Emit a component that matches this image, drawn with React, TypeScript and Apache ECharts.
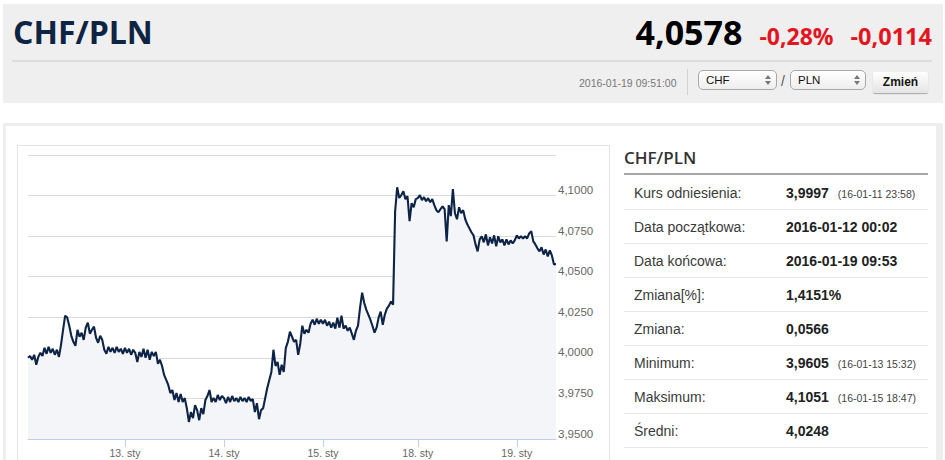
import React, { useEffect, useRef } from "react";
import * as echarts from "echarts";

// ---------- data ----------
const dayKeys = ["2016-01-12", "2016-01-13", "2016-01-14", "2016-01-15", "2016-01-18", "2016-01-19"];
const tickLabels = ["", "13. sty", "14. sty", "15. sty", "18. sty", "19. sty"];

const day12 = [4.0000, 4.0012, 3.9988, 4.0019, 3.9957, 4.0006, 4.0031, 4.0012, 4.0062, 4.0025, 4.0068, 4.0031, 4.0056, 4.0019, 4.0050, 4.0006, 4.0080, 4.0173, 4.0260, 4.0248, 4.0198, 4.0136, 4.0099, 4.0074, 4.0173, 4.0130, 4.0155, 4.0111, 4.0186, 4.0217, 4.0149, 4.0173, 4.0192, 4.0124, 4.0093, 4.0136, 4.0111, 4.0050, 4.0025, 4.0068, 4.0037, 4.0062, 4.0031, 4.0068, 4.0037, 4.0056, 4.0025];
const day13 = [4.0062, 4.0031, 4.0056, 4.0019, 4.0050, 4.0031, 3.9975, 4.0037, 4.0006, 4.0056, 4.0000, 4.0050, 3.9988, 4.0037, 4.0012, 4.0037, 3.9963, 3.9988, 3.9950, 3.9895, 3.9864, 3.9833, 3.9783, 3.9802, 3.9740, 3.9783, 3.9728, 3.9777, 3.9728, 3.9752, 3.9690, 3.9605, 3.9666, 3.9629, 3.9709, 3.9678, 3.9616, 3.9690, 3.9653, 3.9740, 3.9765, 3.9802, 3.9728, 3.9752, 3.9728, 3.9771, 3.9740, 3.9765];
const day14 = [3.9752, 3.9721, 3.9759, 3.9728, 3.9765, 3.9734, 3.9752, 3.9728, 3.9759, 3.9734, 3.9752, 3.9728, 3.9759, 3.9734, 3.9746, 3.9666, 3.9721, 3.9622, 3.9678, 3.9690, 3.9752, 3.9814, 3.9864, 3.9913, 4.0050, 3.9950, 3.9975, 3.9895, 3.9957, 3.9913, 4.0062, 4.0099, 4.0161, 4.0130, 4.0099, 4.0111, 4.0019, 4.0087, 4.0198, 4.0149, 4.0173, 4.0155, 4.0210, 4.0235, 4.0204, 4.0241, 4.0210, 4.0235];
const day15 = [4.0210, 4.0235, 4.0198, 4.0223, 4.0186, 4.0217, 4.0180, 4.0248, 4.0186, 4.0260, 4.0180, 4.0198, 4.0167, 4.0186, 4.0149, 4.0111, 4.0167, 4.0198, 4.0309, 4.0402, 4.0340, 4.0297, 4.0266, 4.0235, 4.0198, 4.0155, 4.0186, 4.0248, 4.0285, 4.0204, 4.0266, 4.0303, 4.0322, 4.0347, 4.0328, 4.0903, 4.1051, 4.0985, 4.1003, 4.1027, 4.0978, 4.0996, 4.0842, 4.0953, 4.0928, 4.0978];
const day18 = [4.0984, 4.1003, 4.0972, 4.0990, 4.0965, 4.0984, 4.0959, 4.0978, 4.0941, 4.0910, 4.0897, 4.0916, 4.0934, 4.0916, 4.0718, 4.0941, 4.0873, 4.1040, 4.0891, 4.0854, 4.0928, 4.0891, 4.0910, 4.0854, 4.0823, 4.0798, 4.0774, 4.0755, 4.0699, 4.0656, 4.0730, 4.0749, 4.0712, 4.0761, 4.0693, 4.0743, 4.0705, 4.0755, 4.0687, 4.0749, 4.0712, 4.0730, 4.0693, 4.0730, 4.0699, 4.0724, 4.0705, 4.0724];
const day19 = [4.0755, 4.0736, 4.0749, 4.0736, 4.0749, 4.0736, 4.0767, 4.0780, 4.0718, 4.0699, 4.0675, 4.0656, 4.0681, 4.0637, 4.0668, 4.0625, 4.0662, 4.0631, 4.0576, 4.0578];

const yMin = 3.95;
const yMax = 4.125;
const yStep = 0.025;

const infoLabels = ["Kurs odniesienia:", "Data początkowa:", "Data końcowa:", "Zmiana[%]:", "Zmiana:", "Minimum:", "Maksimum:", "Średni:"];
const infoValues = ["3,9997", "2016-01-12 00:02", "2016-01-19 09:53", "1,4151%", "0,0566", "3,9605", "4,1051", "4,0248"];
const infoNotes = ["(16-01-11 23:58)", "", "", "", "", "(16-01-13 15:32)", "(16-01-15 18:47)", ""];

// ---------- build ----------
const days = [day12, day13, day14, day15, day18, day19];
const categories: string[] = [];
const values: number[] = [];
const labelAt: Record<number, string> = {};
days.forEach((arr, d) => {
  arr.forEach((v, j) => {
    const idx = categories.length;
    categories.push(`${dayKeys[d]} #${j}`);
    if (j === 0 && tickLabels[d]) labelAt[idx] = tickLabels[d];
    values.push(v);
  });
});

const ARIAL = "'Liberation Sans', Arial, sans-serif";
const OPEN = "'Open Sans', 'Noto Sans', sans-serif";

function Arrows({ left, top }: { left: number; top: number }) {
  return (
    <div style={{ position: "absolute", left, top, width: 6, height: 10 }}>
      <div style={{ position: "absolute", left: 0, top: 0, width: 0, height: 0, borderLeft: "3px solid transparent", borderRight: "3px solid transparent", borderBottom: "4px solid #777" }} />
      <div style={{ position: "absolute", left: 0, top: 6, width: 0, height: 0, borderLeft: "3px solid transparent", borderRight: "3px solid transparent", borderTop: "4px solid #777" }} />
    </div>
  );
}

function Select({ left, width, text }: { left: number; width: number; text: string }) {
  return (
    <div style={{ position: "absolute", left, top: 70, width, height: 20, boxSizing: "border-box", border: "1px solid #a8a8a8", borderRadius: 5, background: "linear-gradient(#ffffff, #eeeeee)" }}>
      <div style={{ position: "absolute", left: 7, top: 0, height: 18, lineHeight: "18px", fontFamily: ARIAL, fontSize: 11.5, color: "#111" }}>{text}</div>
      <Arrows left={width - 13} top={4} />
    </div>
  );
}

export default function App() {
  const ref = useRef<HTMLDivElement>(null);

  useEffect(() => {
    if (!ref.current) return;
    const chart = echarts.init(ref.current, undefined, { renderer: "svg" });
    const showIdx = (i: number) => labelAt[i] !== undefined;
    chart.setOption({
      animation: false,
      grid: { left: 10, right: 53, top: 9, bottom: 21 },
      xAxis: {
        type: "category",
        data: categories,
        boundaryGap: false,
        axisLine: { lineStyle: { color: "#c0d0e0", width: 1 } },
        axisTick: { show: true, interval: showIdx, length: 8, lineStyle: { color: "#c0d0e0", width: 1 } },
        axisLabel: {
          interval: showIdx,
          formatter: (_v: string, i: number) => labelAt[i] ?? "",
          color: "#666666",
          fontFamily: ARIAL,
          fontSize: 10.5,
          margin: 8,
        },
        splitLine: { show: false },
      },
      yAxis: {
        type: "value",
        position: "right",
        min: yMin,
        max: yMax,
        interval: yStep,
        axisLine: { show: false },
        axisTick: { show: false },
        axisLabel: {
          showMaxLabel: false,
          formatter: (v: number) => v.toFixed(4).replace(".", ","),
          color: "#666666",
          fontFamily: ARIAL,
          fontSize: 11.5,
          lineHeight: 11,
          margin: 2,
          align: "left",
          verticalAlign: "bottom",
        },
        splitLine: { lineStyle: { color: "#dadada", width: 1 } },
      },
      series: [
        {
          type: "line",
          data: values,
          symbol: "none",
          lineStyle: { color: "#0d2446", width: 2.1 },
          areaStyle: { color: "#f4f5f8", opacity: 1, origin: "start" },
        },
      ],
    });
    return () => chart.dispose();
  }, []);

  return (
    <div style={{ position: "absolute", left: 0, top: 0, width: 945, height: 460, overflow: "hidden", background: "#ffffff" }}>
      {/* header */}
      <div style={{ position: "absolute", left: 3, top: 4, width: 940, height: 99, background: "#efefef" }} />
      <div style={{ position: "absolute", left: 13, top: 11, height: 42, lineHeight: "42px", fontFamily: OPEN, fontWeight: 700, fontSize: 32, color: "#0e2443", whiteSpace: "nowrap" }}>CHF/PLN</div>
      <div style={{ position: "absolute", right: 13, top: 10, height: 44, display: "flex", alignItems: "baseline", whiteSpace: "nowrap", fontFamily: OPEN, fontWeight: 700, lineHeight: "44px" }}>
        <span style={{ fontSize: 34, color: "#000000" }}>4,0578</span>
        <span style={{ fontSize: 23, color: "#e3151f", marginLeft: 17 }}>-0,28%</span>
        <span style={{ fontSize: 23.5, color: "#e3151f", marginLeft: 17 }}>-0,0114</span>
      </div>
      <div style={{ position: "absolute", left: 12, top: 60, width: 920, height: 2, background: "#dcdcdc" }} />
      <div style={{ position: "absolute", left: 579, top: 76, height: 14, lineHeight: "14px", fontFamily: ARIAL, fontSize: 10.5, color: "#777777", whiteSpace: "nowrap" }}>2016-01-19 09:51:00</div>
      <div style={{ position: "absolute", left: 687, top: 69, width: 1, height: 26, background: "#d2d2d2" }} />
      <Select left={698} width={79} text="CHF" />
      <div style={{ position: "absolute", left: 781, top: 71, height: 20, lineHeight: "20px", fontFamily: ARIAL, fontSize: 14, color: "#555" }}>/</div>
      <Select left={790} width={76} text="PLN" />
      <div style={{ position: "absolute", left: 873, top: 72, width: 55, height: 21, boxSizing: "border-box", borderRadius: 2, background: "linear-gradient(#ffffff, #e4e4e4)", boxShadow: "0 1px 1px rgba(0,0,0,0.3)", textAlign: "center", lineHeight: "21px", fontFamily: ARIAL, fontWeight: 700, fontSize: 12, color: "#151515" }}>Zmień</div>

      {/* panel */}
      <div style={{ position: "absolute", left: 3, top: 123, width: 940, height: 337, background: "#eeeeee" }} />
      <div style={{ position: "absolute", left: 6, top: 126, width: 930, height: 334, background: "#ffffff" }} />
      <div style={{ position: "absolute", left: 17, top: 145, width: 593, height: 320, boxSizing: "border-box", border: "1px solid #e4e4e4" }} />
      <div ref={ref} style={{ position: "absolute", left: 18, top: 146, width: 591, height: 314 }} />

      {/* info table */}
      <div style={{ position: "absolute", left: 624, top: 145, height: 26, lineHeight: "26px", fontFamily: OPEN, fontWeight: 600, fontSize: 17, color: "#333333" }}>CHF/PLN</div>
      <div style={{ position: "absolute", left: 624, top: 173, width: 304, height: 2, background: "#a8a8a8" }} />
      {infoLabels.map((lab, k) => {
        const sep = 209 + 34 * k;
        const c = sep - 16;
        return (
          <React.Fragment key={lab}>
            <div style={{ position: "absolute", left: 634, top: c - 10, height: 20, lineHeight: "20px", fontFamily: ARIAL, fontSize: 14, color: "#3a3a3a", whiteSpace: "nowrap" }}>{lab}</div>
            <div style={{ position: "absolute", left: 786, top: c - 10, height: 20, lineHeight: "20px", fontFamily: ARIAL, fontSize: 14, fontWeight: 700, color: "#222222", whiteSpace: "nowrap" }}>
              {infoValues[k]}
              {infoNotes[k] ? <span style={{ fontWeight: 400, fontSize: 10.5, color: "#444444", marginLeft: 9 }}>{infoNotes[k]}</span> : null}
            </div>
            <div style={{ position: "absolute", left: 624, top: sep, width: 304, height: 1, background: "#e8e8e8" }} />
          </React.Fragment>
        );
      })}
    </div>
  );
}
